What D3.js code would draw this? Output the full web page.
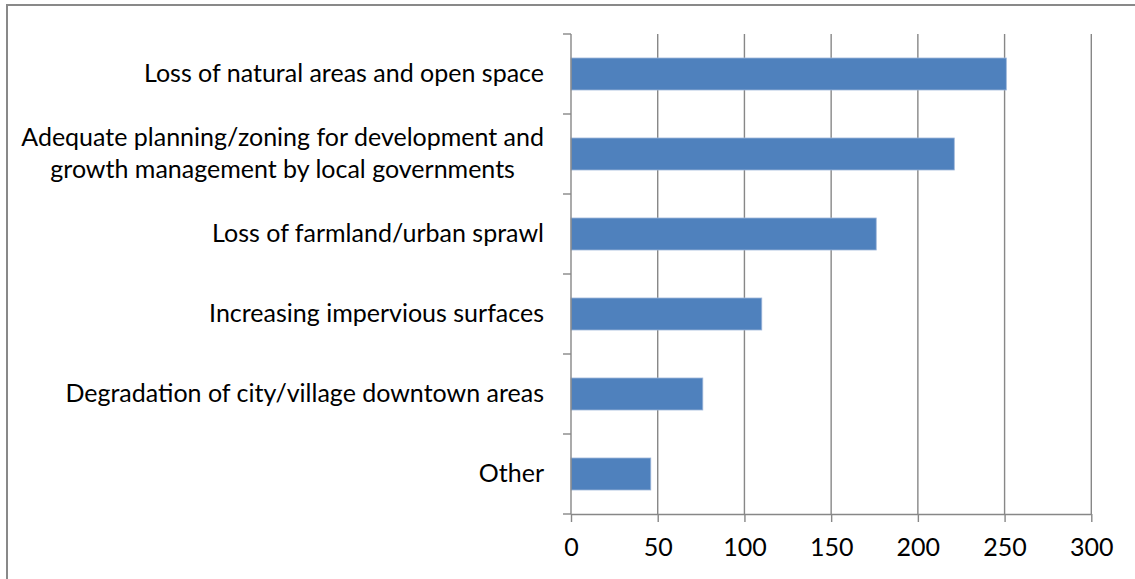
<!DOCTYPE html>
<html>
<head>
<meta charset="utf-8">
<script src="https://cdn.jsdelivr.net/npm/d3@7"></script>
<style>
  html, body { margin: 0; padding: 0; background: #fff; }
  svg { display: block; }
  text { font-family: Lato, "Open Sans", sans-serif; fill: #000; }
</style>
</head>
<body>
<svg id="chart" width="1135" height="579"></svg>
<script>
const categories = [
  "Loss of natural areas and open space",
  "Adequate planning/zoning for development and\ngrowth management by local governments",
  "Loss of farmland/urban sprawl",
  "Increasing impervious surfaces",
  "Degradation of city/village downtown areas",
  "Other"
];
const values = [251, 221, 176, 110, 76, 46];
const xTicks = [0, 50, 100, 150, 200, 250, 300];

(function () {
const svg = d3.select("#chart");
const pLeft = 571, pRight = 1091.3, pTop = 34, pBottom = 514;
const fontSize = 25;
const axisColor = "#878787";
const labelRight = 544;

// outer frame (top and left edges visible)
svg.append("line").attr("x1", 7).attr("x2", 1135).attr("y1", 5).attr("y2", 5)
  .attr("stroke", "#898989").attr("stroke-width", 2);
svg.append("line").attr("x1", 7).attr("x2", 7).attr("y1", 4).attr("y2", 579)
  .attr("stroke", "#898989").attr("stroke-width", 2);

const x = d3.scaleLinear().domain([0, 300]).range([pLeft, pRight]);
const y = d3.scaleBand().domain(categories).range([pTop, pBottom])
  .paddingInner(0.6).paddingOuter(0.3);
const step = y.step();

// gridlines
svg.append("g").selectAll("line").data(xTicks.filter(d => d > 0)).join("line")
  .attr("x1", d => x(d)).attr("x2", d => x(d))
  .attr("y1", pTop).attr("y2", pBottom)
  .attr("stroke", axisColor).attr("stroke-width", 1.4);

// bars
svg.append("g").selectAll("rect").data(values).join("rect")
  .attr("x", x(0))
  .attr("y", (d, i) => y(categories[i]))
  .attr("width", d => x(d) - x(0))
  .attr("height", y.bandwidth())
  .attr("fill", "#4f81bd")
  .attr("stroke", "#9db6da").attr("stroke-width", 0.8);

// x axis
const xAxis = svg.append("g").attr("transform", `translate(0,${pBottom})`)
  .call(d3.axisBottom(x).tickValues(xTicks).tickSize(8).tickSizeOuter(0).tickPadding(16));
xAxis.select(".domain").attr("stroke", axisColor).attr("stroke-width", 1.4);
xAxis.selectAll(".tick line").attr("stroke", axisColor).attr("stroke-width", 1.4);
xAxis.selectAll(".tick text").attr("font-size", fontSize).attr("font-family", "Lato")
  .attr("fill", "#000");

// y axis line and category boundary ticks
svg.append("line").attr("x1", pLeft).attr("x2", pLeft).attr("y1", pTop).attr("y2", pBottom)
  .attr("stroke", axisColor).attr("stroke-width", 1.4);
const boundaries = d3.range(categories.length + 1).map(i => pTop + i * step);
svg.append("g").selectAll("line").data(boundaries).join("line")
  .attr("x1", pLeft - 8).attr("x2", pLeft)
  .attr("y1", d => d).attr("y2", d => d)
  .attr("stroke", axisColor).attr("stroke-width", 1.4);

// category labels (multi-line labels are centred on each other, block right-aligned)
const lineH = fontSize * 1.3;
svg.append("g").selectAll("text").data(categories).join("text")
  .attr("font-size", fontSize)
  .each(function(d) {
    const lines = d.split("\n");
    const cy = y(d) + y.bandwidth() / 2;
    const t = d3.select(this);
    const spans = lines.map((ln, k) => t.append("tspan")
        .attr("y", cy + 8 + (k - (lines.length - 1) / 2) * lineH)
        .text(ln));
    if (lines.length === 1) {
      t.attr("text-anchor", "end");
      spans[0].attr("x", labelRight);
    } else {
      const maxW = d3.max(spans, s => s.node().getComputedTextLength());
      t.attr("text-anchor", "middle");
      spans.forEach(s => s.attr("x", labelRight - maxW / 2));
    }
  });
})();
</script>
</body>
</html>
